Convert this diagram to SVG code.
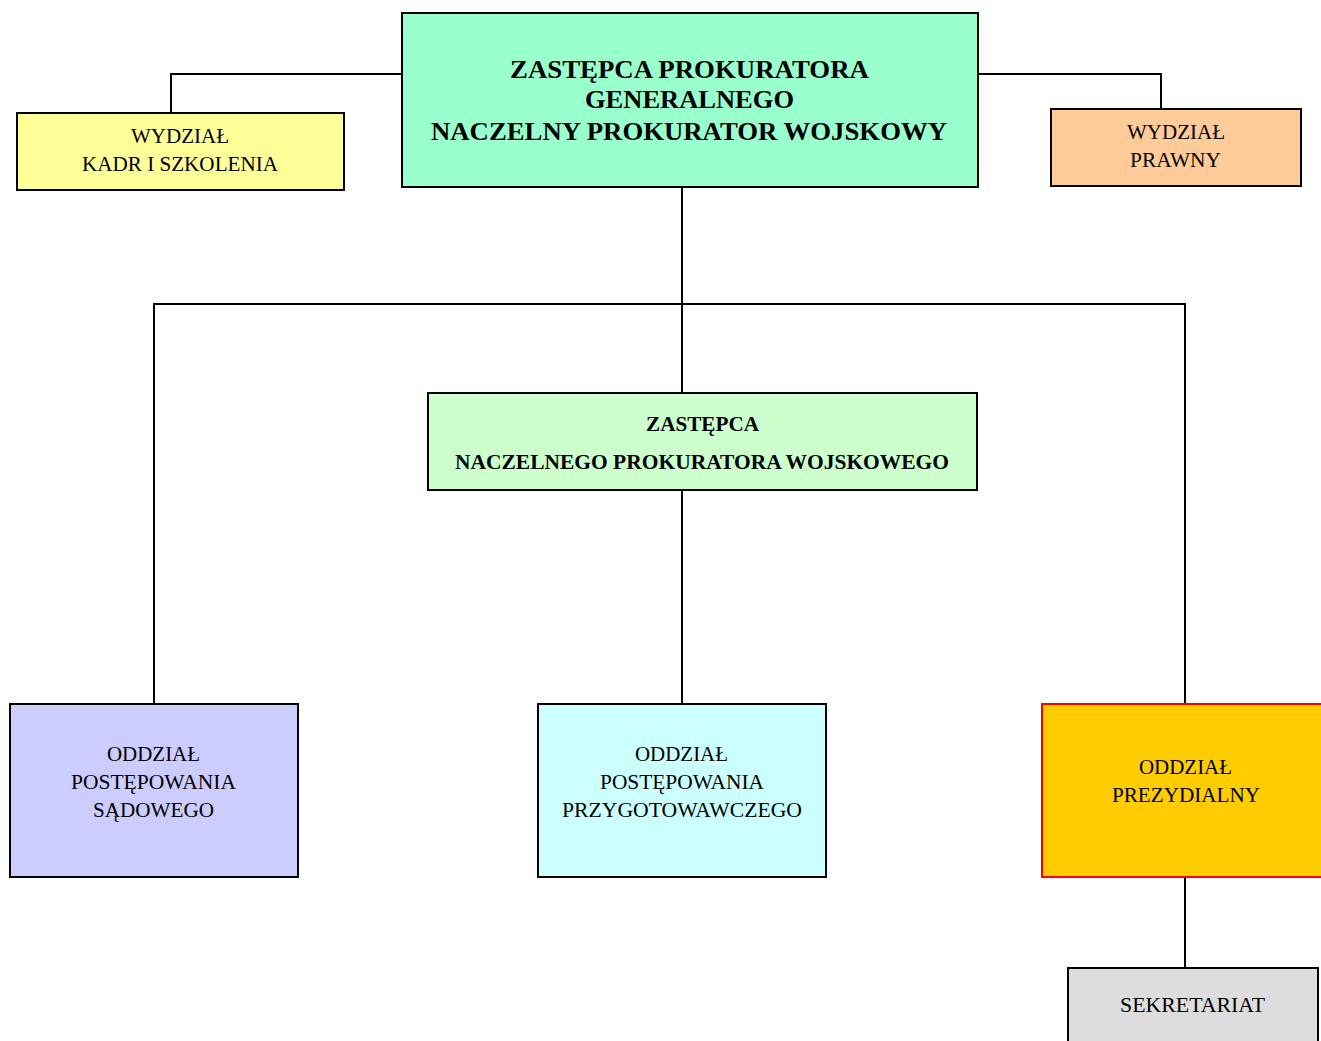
<svg xmlns="http://www.w3.org/2000/svg" width="1321" height="1041" viewBox="0 0 1321 1041">
<style>
.box{stroke:#000;stroke-width:2}
.t{font-family:"Liberation Serif","Times New Roman",serif;font-size:21px;text-anchor:middle;fill:#000}
.b{font-weight:bold}
.h{font-size:25px}
.c{fill:none;stroke:#000;stroke-width:2}
</style>
<rect width="1321" height="1041" fill="#fff"/>
<g id="connectors">
<polyline class="c" points="402,74 171,74 171,113"/>
<polyline class="c" points="978,74 1161,74 1161,109"/>
<line class="c" x1="682" y1="187" x2="682" y2="393"/>
<polyline class="c" points="154,704 154,304 1185,304 1185,704"/>
<line class="c" x1="682" y1="490" x2="682" y2="704"/>
<line class="c" x1="1185" y1="877" x2="1185" y2="968"/>
</g>
<g id="top">
<rect class="box" x="402" y="13" width="576" height="174" fill="#99FFCC"/>
<text class="t b h" x="689.5" y="78" textLength="359" lengthAdjust="spacingAndGlyphs">ZASTĘPCA PROKURATORA</text>
<text class="t b h" x="689.5" y="108" textLength="209" lengthAdjust="spacingAndGlyphs">GENERALNEGO</text>
<text class="t b h" x="689" y="140" textLength="516" lengthAdjust="spacingAndGlyphs">NACZELNY PROKURATOR WOJSKOWY</text>
</g>
<g id="kadr">
<rect class="box" x="17" y="113" width="327" height="77" fill="#FFFF99"/>
<text class="t" x="180" y="143" textLength="98" lengthAdjust="spacingAndGlyphs">WYDZIAŁ</text>
<text class="t" x="180" y="171" textLength="196" lengthAdjust="spacingAndGlyphs">KADR I SZKOLENIA</text>
</g>
<g id="prawny">
<rect class="box" x="1051" y="109" width="250" height="77" fill="#FFCC99"/>
<text class="t" x="1176" y="139" textLength="98" lengthAdjust="spacingAndGlyphs">WYDZIAŁ</text>
<text class="t" x="1175.5" y="167" textLength="91" lengthAdjust="spacingAndGlyphs">PRAWNY</text>
</g>
<g id="zastepca">
<rect class="box" x="428" y="393" width="549" height="97" fill="#CCFFCC"/>
<text class="t b" x="702.5" y="431" textLength="113" lengthAdjust="spacingAndGlyphs">ZASTĘPCA</text>
<text class="t b" x="702" y="469" textLength="494" lengthAdjust="spacingAndGlyphs">NACZELNEGO PROKURATORA WOJSKOWEGO</text>
</g>
<g id="sadowe">
<rect class="box" x="10" y="704" width="288" height="173" fill="#CCCCFF"/>
<text class="t" x="153.5" y="761" textLength="93" lengthAdjust="spacingAndGlyphs">ODDZIAŁ</text>
<text class="t" x="153.5" y="789" textLength="165" lengthAdjust="spacingAndGlyphs">POSTĘPOWANIA</text>
<text class="t" x="153.5" y="817" textLength="121" lengthAdjust="spacingAndGlyphs">SĄDOWEGO</text>
</g>
<g id="przygotowawcze">
<rect class="box" x="538" y="704" width="288" height="173" fill="#CCFFFF"/>
<text class="t" x="681.5" y="761" textLength="93" lengthAdjust="spacingAndGlyphs">ODDZIAŁ</text>
<text class="t" x="682" y="789" textLength="164" lengthAdjust="spacingAndGlyphs">POSTĘPOWANIA</text>
<text class="t" x="682" y="817" textLength="240" lengthAdjust="spacingAndGlyphs">PRZYGOTOWAWCZEGO</text>
</g>
<g id="prezydialny">
<rect x="1042" y="704" width="290" height="173" fill="#FFCC00" stroke="#FF0000" stroke-width="2"/>
<text class="t" x="1185.5" y="774" textLength="93" lengthAdjust="spacingAndGlyphs">ODDZIAŁ</text>
<text class="t" x="1186" y="802" textLength="148" lengthAdjust="spacingAndGlyphs">PREZYDIALNY</text>
</g>
<g id="sekretariat">
<rect class="box" x="1068" y="968" width="250" height="90" fill="#DDDDDD"/>
<text class="t" x="1192.5" y="1012" textLength="145" lengthAdjust="spacingAndGlyphs">SEKRETARIAT</text>
</g>
</svg>
